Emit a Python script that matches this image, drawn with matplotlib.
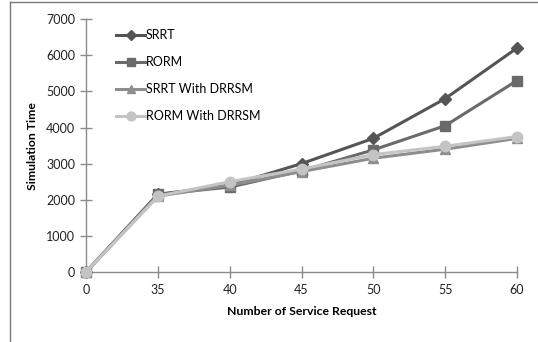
import matplotlib
matplotlib.use("Agg")
import matplotlib.pyplot as plt
from matplotlib.lines import Line2D

requests = ["0", "35", "40", "45", "50", "55", "60"]
srrt = [0, 2150, 2400, 3000, 3700, 4800, 6200]
rorm = [0, 2150, 2350, 2800, 3380, 4050, 5300]
srrt_drrsm = [0, 2100, 2400, 2780, 3150, 3400, 3700]
rorm_drrsm = [0, 2100, 2500, 2850, 3250, 3480, 3750]

series = [
    ("SRRT", srrt, "#555555", "D", 6),
    ("RORM", rorm, "#6a6a6a", "s", 7),
    ("SRRT With DRRSM", srrt_drrsm, "#8e8e8e", "^", 7),
    ("RORM With DRRSM", rorm_drrsm, "#c4c4c4", "o", 7.5),
]

plt.rcParams["font.family"] = ["Lato", "DejaVu Sans"]

fig = plt.figure(figsize=(5.38, 3.42), dpi=100)
ax = fig.add_axes([0.16, 0.2047, 0.801, 0.7393])

x = list(range(len(requests)))
for name, vals, col, mk, ms in series:
    ax.plot(x, vals, color=col, marker=mk, markersize=ms, linewidth=2.2,
            label=name, clip_on=False, zorder=3)

ax.set_xlim(0, len(requests) - 1)
ax.set_ylim(0, 7000)
ax.set_xticks(x)
ax.set_xticklabels(requests)
ax.set_yticks(range(0, 7001, 1000))

for s in ["top", "right"]:
    ax.spines[s].set_visible(False)
for s in ["left", "bottom"]:
    ax.spines[s].set_color("#8a8a8a")
    ax.spines[s].set_linewidth(1.0)
ax.tick_params(direction="inout", length=8, width=1.0, color="#8a8a8a",
               labelsize=9, labelcolor="#222222")
ax.tick_params(axis="x", pad=5)
ax.tick_params(axis="y", pad=4)

ax.set_xlabel("Number of Service Request", fontsize=8.8, fontweight="bold", labelpad=7)
ax.set_ylabel("Simulation Time", fontsize=8.8, fontweight="bold", labelpad=6)

leg = ax.legend(loc="upper left", bbox_to_anchor=(0.207, 0.93), bbox_transform=fig.transFigure,
                frameon=False, fontsize=9, handlelength=2.3, handletextpad=0.05,
                labelspacing=1.2, borderaxespad=0, markerscale=0.85)

# outer frame edges
fig.add_artist(Line2D([10 / 538, 10 / 538], [0, 1 - 2 / 342], color="#777777", linewidth=1.0))
fig.add_artist(Line2D([10 / 538, 1], [1 - 2 / 342, 1 - 2 / 342], color="#777777", linewidth=1.0))

fig.savefig("out.png", dpi=100)
